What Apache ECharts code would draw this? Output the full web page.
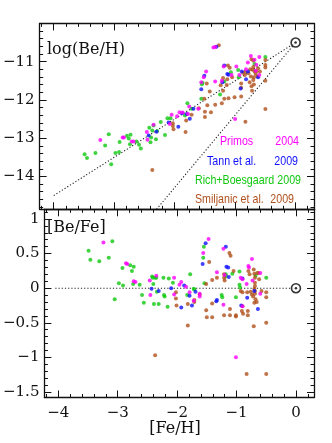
<!DOCTYPE html>
<html><head><meta charset="utf-8">
<script src="https://cdn.jsdelivr.net/npm/echarts@6/dist/echarts.min.js"></script>
<style>html,body{margin:0;padding:0;background:#fff}#c{width:332px;height:443px}</style>
</head><body><div id="c"></div>
<script>
// ---------- data ----------
const primosTop = [[-3.23,-13.05],[-2.86,-12.98],[-2.84,-12.98],[-2.71,-13.09],[-2.68,-13.09],[-2.46,-12.84],[-2.45,-13.04],[-2.35,-12.65],[-2.08,-12.63],[-2.05,-12.39],[-1.96,-12.43],[-1.92,-12.32],[-1.87,-12.33],[-1.78,-12.37],[-1.76,-12.17],[-1.61,-12.23],[-1.56,-11.54],[-1.52,-11.41],[-1.48,-11.26],[-1.36,-10.63],[-1.33,-10.62],[-1.33,-11.52],[-1.22,-11.50],[-1.19,-11.13],[-1.06,-11.35],[-1.00,-12.50],[-0.98,-11.13],[-0.93,-11.35],[-0.82,-11.20],[-0.79,-11.02],[-0.74,-10.85],[-0.68,-10.95],[-0.60,-10.88],[-0.65,-11.08],[-0.66,-11.24],[-0.60,-11.35]];
const tanTop = [[-2.43,-12.93],[-2.30,-12.83],[-2.10,-12.59],[-1.94,-12.70],[-1.88,-12.35],[-1.80,-12.37],[-1.75,-12.49],[-1.69,-12.23],[-1.56,-11.72],[-1.51,-11.37],[-1.31,-10.61],[-1.21,-11.54],[-1.18,-11.10],[-1.13,-11.32],[-1.11,-11.34],[-0.91,-11.70],[-0.89,-11.26],[-0.82,-11.46],[-0.79,-11.26],[-0.62,-11.41]];
const richTop = [[-3.49,-13.42],[-3.45,-13.52],[-3.31,-13.39],[-3.15,-13.19],[-3.09,-12.90],[-3.05,-13.68],[-2.98,-13.39],[-2.92,-13.36],[-2.91,-13.10],[-2.79,-12.94],[-2.76,-13.01],[-2.73,-12.91],[-2.74,-13.16],[-2.63,-13.09],[-2.59,-13.17],[-2.56,-13.27],[-2.42,-12.73],[-2.40,-13.11],[-2.39,-12.98],[-2.37,-12.80],[-2.35,-12.67],[-2.31,-13.03],[-2.29,-12.81],[-2.23,-12.58],[-2.16,-12.92],[-2.12,-12.48],[-2.07,-12.48],[-1.83,-12.41],[-1.79,-12.09],[-1.72,-12.23],[-1.56,-11.97],[-1.55,-11.59],[-1.54,-11.55],[-1.25,-11.86],[-1.18,-11.52],[-1.07,-11.28],[-0.95,-11.22],[-0.94,-11.41],[-0.68,-11.06],[-0.50,-10.88]];
const smilTop = [[-2.37,-13.83],[-2.03,-12.61],[-2.03,-12.68],[-2.02,-12.77],[-1.82,-12.84],[-1.81,-12.54],[-1.72,-12.39],[-1.60,-12.22],[-1.51,-11.97],[-1.50,-12.31],[-1.50,-12.45],[-1.47,-11.57],[-1.46,-12.14],[-1.42,-11.78],[-1.40,-12.32],[-1.33,-12.13],[-1.27,-10.57],[-1.24,-11.62],[-1.22,-12.09],[-1.20,-11.43],[-1.20,-11.76],[-1.18,-11.97],[-1.14,-11.61],[-1.13,-11.46],[-1.12,-11.10],[-1.11,-11.96],[-1.09,-11.16],[-1.05,-11.41],[-1.01,-11.93],[-0.90,-11.91],[-0.90,-11.57],[-0.90,-11.68],[-0.87,-11.29],[-0.84,-11.35],[-0.83,-11.26],[-0.83,-12.57],[-0.76,-11.54],[-0.73,-10.94],[-0.73,-11.64],[-0.72,-11.76],[-0.69,-11.60],[-0.70,-10.97],[-0.70,-11.14],[-0.71,-11.21],[-0.68,-11.26],[-0.65,-11.25],[-0.62,-11.17],[-0.59,-11.26],[-0.66,-11.32],[-0.63,-11.39],[-0.69,-11.41],[-0.74,-11.39],[-0.70,-11.48],[-0.50,-10.96],[-0.50,-11.09],[-0.50,-11.15],[-0.50,-11.50],[-0.50,-12.24],[-0.75,-11.20],[-0.78,-11.30]];

const primosBot = [[-3.24,0.66],[-2.86,0.36],[-2.84,0.35],[-2.73,0.10],[-2.70,0.09],[-2.46,0.11],[-2.45,-0.10],[-2.35,0.18],[-2.05,0.15],[-2.05,-0.09],[-1.96,0.05],[-1.93,0.09],[-1.85,0.02],[-1.79,-0.06],[-1.72,-0.18],[-1.62,-0.08],[-1.62,-0.12],[-1.56,0.51],[-1.47,0.71],[-1.33,0.23],[-1.22,0.57],[-1.20,0.19],[-1.22,-0.24],[-1.01,-1.0],[-0.93,0.15],[-0.90,0.13],[-0.90,-0.26],[-0.83,0.06],[-0.80,0.32],[-0.79,0.30],[-0.74,0.42],[-0.73,0.11],[-0.60,0.22],[-0.60,-0.08]];
const tanBot = [[-2.43,-0.01],[-2.31,-0.04],[-2.10,0.0],[-1.93,-0.28],[-1.88,0.04],[-1.79,-0.11],[-1.75,-0.25],[-1.69,-0.05],[-1.57,0.35],[-1.52,0.65],[-1.34,-0.19],[-1.33,-0.17],[-1.18,0.60],[-1.17,0.31],[-1.14,0.30],[-1.13,0.16],[-0.92,-0.25],[-0.90,0.14],[-0.82,-0.14],[-0.64,-0.30],[-0.70,-0.04]];
const richBot = [[-3.49,0.54],[-3.46,0.41],[-3.31,0.39],[-3.15,0.44],[-3.09,0.68],[-3.05,-0.16],[-2.98,0.07],[-2.92,0.29],[-2.91,0.04],[-2.79,0.33],[-2.76,0.25],[-2.73,0.31],[-2.74,0.06],[-2.63,0.05],[-2.59,-0.10],[-2.56,-0.21],[-2.42,0.17],[-2.41,0.15],[-2.40,0.06],[-2.39,-0.23],[-2.37,0.15],[-2.35,0.15],[-2.34,-0.05],[-2.31,-0.23],[-2.23,0.15],[-2.22,-0.10],[-2.21,-0.12],[-2.16,-0.27],[-2.14,0.14],[-2.07,0.08],[-1.83,-0.10],[-1.78,0.20],[-1.72,-0.01],[-1.71,-0.02],[-1.56,0.44],[-1.55,0.60],[-1.54,0.07],[-1.25,-0.10],[-1.24,-0.13],[-1.18,0.17],[-1.18,0.20],[-1.07,0.21],[-1.01,-0.13],[-0.95,0.24],[-0.95,0.05],[-0.94,0.01],[-0.68,0.18],[-0.50,0.15]];
const smilBot = [[-2.37,-0.97],[-2.02,-0.06],[-2.02,-0.15],[-2.01,-0.25],[-1.82,-0.54],[-1.82,-0.23],[-1.71,-0.17],[-1.71,-0.20],[-1.62,-0.09],[-1.51,0.06],[-1.51,-0.32],[-1.50,-0.42],[-1.46,0.38],[-1.41,-0.22],[-1.41,-0.42],[-1.41,0.12],[-1.33,0.15],[-1.21,0.20],[-1.21,0.15],[-1.20,0.11],[-1.21,-0.39],[-1.12,0.51],[-1.10,0.47],[-1.11,-0.30],[-1.11,-0.39],[-1.05,0.25],[-1.01,-0.39],[-1.01,-0.41],[-0.93,-0.04],[-0.90,-0.06],[-0.90,-0.26],[-0.91,-0.33],[-0.89,-0.37],[-0.81,-0.33],[-0.81,-0.39],[-0.83,-1.24],[-0.80,0.25],[-0.78,0.20],[-0.71,0.27],[-0.70,0.21],[-0.69,0.15],[-0.69,0.08],[-0.69,0.03],[-0.70,-0.01],[-0.69,-0.04],[-0.69,-0.08],[-0.68,-0.16],[-0.70,-0.21],[-0.71,-0.55],[-0.65,0.22],[-0.63,0.22],[-0.62,0.13],[-0.76,-0.05],[-0.74,-0.09],[-0.82,-0.06],[-0.50,-0.06],[-0.50,-0.13],[-0.50,-0.50],[-0.50,-1.24],[-0.58,-0.04],[-0.72,-0.12],[-0.66,-0.20]];

// reference lines and solar point
const sunTop = [[0,-10.5]];
const sunBot = [[0,0]];
const lineSlope1 = [[-4,-14.5],[0,-10.5]];
const lineSlope2 = [[-2.3,-14.86],[0,-10.5]];
const lineZero = [[-4.05,0],[0,0]];

// legend labels
const legendNames = ['Primos','Tann et al.','Rich+Boesgaard','Smiljanic et al.'];
const legendYears = ['2004','2009','2009','2009'];

// ---------- styling ----------
const C = {mag:'#ff00ff', blue:'#1010ff', green:'#10c810', brown:'#b0501c'};
const colors = [C.mag, C.blue, C.green, C.brown];
const SERIF = '"DejaVu Serif", serif';

function tickFmt(step){
  return function(v){
    const r = Math.round(v/step)*step;
    if (Math.abs(v-r) > 1e-6) return '';
    return String(+r.toFixed(2)).replace('-', '\u2212');
  };
}
function ax(extra){
  return Object.assign({
    type:'value', scale:false,
    axisLine:{show:true, onZero:false, lineStyle:{color:'#111', width:1.3}},
    axisTick:{show:true, inside:true, length:7, lineStyle:{color:'#111', width:1}},
    minorTick:{show:true, splitNumber:5, length:3.5, lineStyle:{color:'#111', width:1}},
    splitLine:{show:false},
    axisLabel:{show:false}
  }, extra);
}
const X0 = -4.233, X1 = 0.304;
const labelStyle = {show:true, color:'#111', fontFamily:SERIF, fontSize:15};

const chart = echarts.init(document.getElementById('c'), null, {renderer:'canvas'});

function scat(data, color, xi, yi){
  return {type:'scatter', data, xAxisIndex:xi, yAxisIndex:yi, symbol:'circle', symbolSize:4,
          itemStyle:{color}, silent:true, z:3};
}
function dline(data, xi, yi){
  return {type:'line', data, xAxisIndex:xi, yAxisIndex:yi, showSymbol:false, symbol:'none',
          lineStyle:{color:'#222', width:1.1, type:[1.2,2]}, silent:true, z:2};
}
function sun(data, xi, yi){
  return [
    {type:'scatter', data, xAxisIndex:xi, yAxisIndex:yi, symbol:'circle', symbolSize:9,
     itemStyle:{color:'#fff', borderColor:'#000', borderWidth:1.6}, z:4, silent:true},
    {type:'scatter', data, xAxisIndex:xi, yAxisIndex:yi, symbol:'circle', symbolSize:2.5,
     itemStyle:{color:'#000'}, z:5, silent:true}
  ];
}

const legendRows = [141.7, 161, 180, 199.3];
const legendLeft = [220, 207, 195, 195];
const legendRight = [299, 298, 301, 294];
const graphics = [
  {type:'text', x:47, y:50, style:{text:'log(Be/H)', font:'16px '+SERIF, fill:'#111', textAlign:'left', textVerticalAlign:'middle'}},
  {type:'text', x:47, y:228, style:{text:'[Be/Fe]', font:'16px '+SERIF, fill:'#111', textAlign:'left', textVerticalAlign:'middle'}},
  {type:'text', x:175, y:429, style:{text:'[Fe/H]', font:'16px '+SERIF, fill:'#111', textAlign:'center', textVerticalAlign:'middle'}}
];
legendNames.forEach((n,i)=>{
  graphics.push({type:'text', x:legendLeft[i], y:legendRows[i], scaleX:0.82,
    style:{text:n, font:'13px "Liberation Sans", Arial, sans-serif', fill:colors[i], textAlign:'left', textVerticalAlign:'middle'}});
  graphics.push({type:'text', x:legendRight[i], y:legendRows[i], scaleX:0.82,
    style:{text:legendYears[i], font:'13px "Liberation Sans", Arial, sans-serif', fill:colors[i], textAlign:'right', textVerticalAlign:'middle'}});
});

chart.setOption({
  animation:false,
  backgroundColor:'#fff',
  grid:[
    {left:35, width:279, top:23.4, height:185.9},
    {left:35, width:279, top:209.3, height:188.2}
  ],
  xAxis:[
    ax({gridIndex:0, position:'bottom', min:X0, max:X1}),
    ax({gridIndex:0, position:'top', min:X0, max:X1}),
    ax({gridIndex:1, position:'bottom', min:X0, max:X1,
        axisLabel:Object.assign({}, labelStyle, {margin:8, formatter:tickFmt(1), showMinLabel:true, showMaxLabel:true})}),
    ax({gridIndex:1, position:'top', min:X0, max:X1})
  ],
  yAxis:[
    ax({gridIndex:0, position:'left', min:-14.86, max:-10,
        axisLabel:Object.assign({}, labelStyle, {margin:5, formatter:tickFmt(1), showMaxLabel:false})}),
    ax({gridIndex:0, position:'right', min:-14.86, max:-10}),
    ax({gridIndex:1, position:'left', min:-1.58, max:1.14,
        axisLabel:Object.assign({}, labelStyle, {margin:5, formatter:tickFmt(0.5)})}),
    ax({gridIndex:1, position:'right', min:-1.58, max:1.14})
  ],
  graphic:graphics,
  series:[
    dline(lineSlope1,0,0), dline(lineSlope2,0,0), dline(lineZero,2,2),
    scat(richTop,C.green,0,0), scat(smilTop,C.brown,0,0), scat(tanTop,C.blue,0,0), scat(primosTop,C.mag,0,0),
    scat(richBot,C.green,2,2), scat(smilBot,C.brown,2,2), scat(tanBot,C.blue,2,2), scat(primosBot,C.mag,2,2),
    ...sun(sunTop,0,0), ...sun(sunBot,2,2)
  ]
});
</script>
</body></html>
